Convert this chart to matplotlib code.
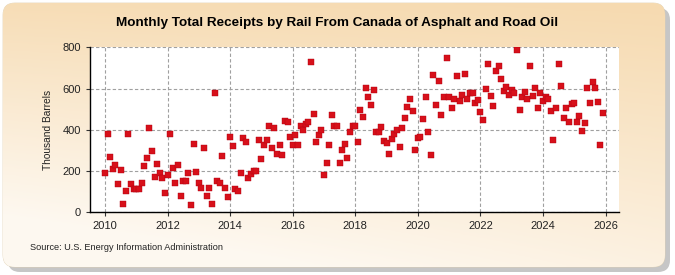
import numpy as np
import matplotlib.pyplot as plt
from matplotlib.patches import FancyBboxPatch

plt.rcParams['font.family'] = ['Liberation Sans', 'DejaVu Sans']

# monthly values, thousand barrels, Jan..Dec of each year
y2010 = [189, 382, 267, 208, 228, 135, 206, 42, 101, 379, 135, 111]
y2011 = [111, 115, 140, 223, 262, 408, 296, 169, 234, 190, 164, 96]
y2012 = [179, 382, 216, 140, 228, 81, 150, 153, 189, 37, 330, 193]
y2013 = [140, 119, 311, 81, 119, 42, 579, 154, 140, 272, 120, 75]
y2014 = [364, 320, 111, 101, 189, 359, 340, 164, 184, 198, 198, 350]
y2015 = [257, 325, 350, 418, 311, 408, 281, 325, 276, 442, 437, 364]
y2016 = [325, 374, 325, 418, 398, 428, 437, 730, 477, 340, 374, 398]
y2017 = [179, 237, 325, 472, 418, 418, 237, 301, 330, 262, 389, 418]
y2018 = [418, 340, 496, 462, 603, 559, 520, 593, 389, 389, 413, 345]
y2019 = [335, 281, 354, 379, 398, 315, 408, 457, 511, 550, 491, 301]
y2020 = [359, 364, 452, 559, 389, 276, 667, 520, 637, 472, 559, 750]
y2021 = [559, 506, 550, 662, 540, 569, 672, 550, 579, 579, 530, 545]
y2022 = [486, 447, 598, 720, 564, 515, 686, 711, 644, 589, 608, 569]
y2023 = [593, 579, 789, 496, 559, 584, 550, 711, 564, 603, 506, 579]
y2024 = [540, 559, 550, 491, 350, 506, 720, 613, 457, 506, 437, 525]
y2025 = [530, 437, 467, 393, 432, 603, 530, 633, 603, 535, 325, 481]

years = list(range(2010, 2026))
values = np.concatenate([y2010, y2011, y2012, y2013, y2014, y2015, y2016, y2017,
                         y2018, y2019, y2020, y2021, y2022, y2023, y2024, y2025])
dates = np.array([yr + m / 12 for yr in years for m in range(12)])

xticks = list(range(2010, 2027, 2))
yticks = [0, 200, 400, 600, 800]

fig = plt.figure(figsize=(6.75, 2.75), dpi=100)

# background panel with shadow and beige gradient
bg = fig.add_axes([0, 0, 1, 1], zorder=-1)
bg.set_xlim(0, 675)
bg.set_ylim(275, 0)
bg.axis('off')
shadow = FancyBboxPatch((8, 8), 662, 264, boxstyle='round,pad=0,rounding_size=12',
                        fc='#b8b8b8', ec='none', alpha=0.8)
bg.add_patch(shadow)
box = FancyBboxPatch((3, 3), 662, 264, boxstyle='round,pad=0,rounding_size=12',
                     fc='none', ec='#e0d0b0', lw=0.5)
bg.add_patch(box)
gy, gx = np.mgrid[0:1:100j, 0:1:200j]
t = np.clip(0.75 * gy + 0.35 * (1 - gx) * gy + 0.1 * (1 - gx), 0, 1)
c0 = np.array([0.965, 0.855, 0.690])
c1 = np.array([0.995, 0.975, 0.945])
grad = c0[None, None, :] * (1 - t[..., None]) + c1[None, None, :] * t[..., None]
im = bg.imshow(grad, extent=(3, 665, 267, 3), aspect='auto', zorder=1)
im.set_clip_path(box)

ax = fig.add_axes([90 / 675, 62.7 / 275, 529 / 675, 165 / 275])
ax.set_facecolor('white')
ax.scatter(dates, values, marker='s', s=15, color='#d7101a', edgecolors='#b00010',
           linewidths=0.3, zorder=3)

ax.set_xlim(2009.52, 2026.43)
ax.set_ylim(0, 800)
ax.set_xticks(xticks)
ax.set_yticks(yticks)
ax.grid(True, color='#a0a0a0', linestyle=(0, (3, 2)), linewidth=0.8)
ax.set_axisbelow(True)
for s in ['top', 'right']:
    ax.spines[s].set_visible(False)
for s in ['left', 'bottom']:
    ax.spines[s].set_linewidth(1.0)
ax.tick_params(labelsize=8, length=3, width=0.8, colors='#333333', labelcolor='#222222')
ax.set_ylabel('Thousand Barrels', fontsize=7.3, color='#222222', labelpad=7)

fig.text(0.5, 0.915, 'Monthly Total Receipts by Rail From Canada of Asphalt and Road Oil',
         ha='center', va='center', fontsize=9.7, fontweight='bold')
fig.text(30 / 675, 1 - 247 / 275, 'Source: U.S. Energy Information Administration',
         ha='left', va='center', fontsize=6.6, color='#222222')

plt.savefig('out.png', dpi=100)
